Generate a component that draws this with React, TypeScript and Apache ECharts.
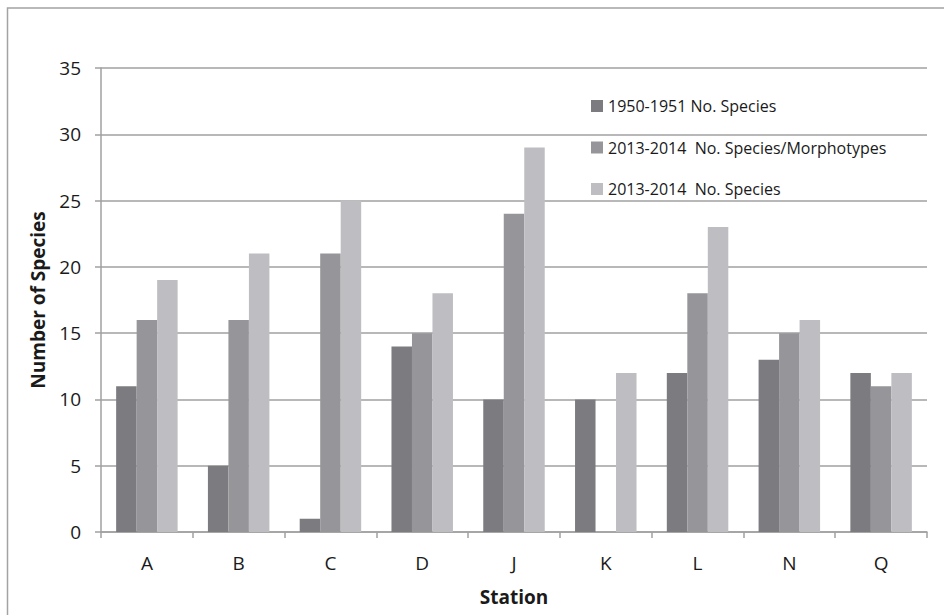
import React, { useEffect, useRef } from "react";
import * as echarts from "echarts";

const stations = ["A", "B", "C", "D", "J", "K", "L", "N", "Q"];
const species1950 = [11, 5, 1, 14, 10, 10, 12, 13, 12];
const morpho2013 = [16, 16, 21, 15, 24, null, 18, 15, 11];
const species2013 = [19, 21, 25, 18, 29, 12, 23, 16, 12];
const seriesNames = [
  "1950-1951 No. Species",
  "2013-2014  No. Species/Morphotypes",
  "2013-2014  No. Species",
];
const colors = ["#7c7c80", "#96969a", "#bebec2"];

const FONT = "'Open Sans', 'Liberation Sans', sans-serif";

export default function App() {
  const ref = useRef<HTMLDivElement>(null);
  useEffect(() => {
    const chart = echarts.init(ref.current!, null, { renderer: "svg" });
    const data = [species1950, morpho2013, species2013];
    chart.setOption({
      animation: false,
      backgroundColor: "#ffffff",
      textStyle: { fontFamily: FONT },
      graphic: [
        {
          type: "rect",
          shape: { x: 7.5, y: 8, width: 1000, height: 700 },
          style: { fill: "none", stroke: "#a3a3a3", lineWidth: 1.5 },
          silent: true,
        },
      ],
      grid: { left: 101, right: 17, top: 68, bottom: 83, containLabel: false },
      legend: {
        orient: "vertical",
        left: 591,
        top: 98,
        padding: 0,
        itemWidth: 12,
        itemHeight: 12,
        itemGap: 25.5,
        icon: "rect",
        textStyle: { fontFamily: FONT, fontSize: 16, lineHeight: 12, color: "#1a1a1a" },
        data: seriesNames,
      },
      xAxis: {
        type: "category",
        data: stations,
        name: "Station",
        nameLocation: "middle",
        nameGap: 55,
        nameTextStyle: { fontFamily: FONT, fontSize: 19, fontWeight: "bold", color: "#1a1a1a" },
        axisLine: { lineStyle: { color: "#a0a0a0", width: 1.5 } },
        axisTick: { show: true, length: 6, lineStyle: { color: "#a0a0a0", width: 1.5 } },
        axisLabel: { fontFamily: FONT, fontSize: 19, color: "#1a1a1a", margin: 21 },
      },
      yAxis: {
        type: "value",
        min: 0,
        max: 35,
        interval: 5,
        name: "Number of Species",
        nameLocation: "middle",
        nameGap: 54,
        nameTextStyle: { fontFamily: FONT, fontSize: 19, fontWeight: "bold", color: "#1a1a1a" },
        axisLine: { show: true, lineStyle: { color: "#a0a0a0", width: 1.5 } },
        axisTick: { show: true, length: 6, lineStyle: { color: "#a0a0a0", width: 1.5 } },
        axisLabel: { fontFamily: FONT, fontSize: 19, color: "#1a1a1a", margin: 20 },
        splitLine: { lineStyle: { color: "#a0a0a0", width: 1.5 } },
      },
      series: seriesNames.map((name, i) => ({
        name,
        type: "bar",
        data: data[i],
        barGap: "0%",
        barCategoryGap: "33%",
        itemStyle: { color: colors[i] },
      })),
    });
    return () => chart.dispose();
  }, []);
  return (
    <div
      ref={ref}
      style={{ position: "fixed", left: 0, top: 0, width: 944, height: 615 }}
    />
  );
}
